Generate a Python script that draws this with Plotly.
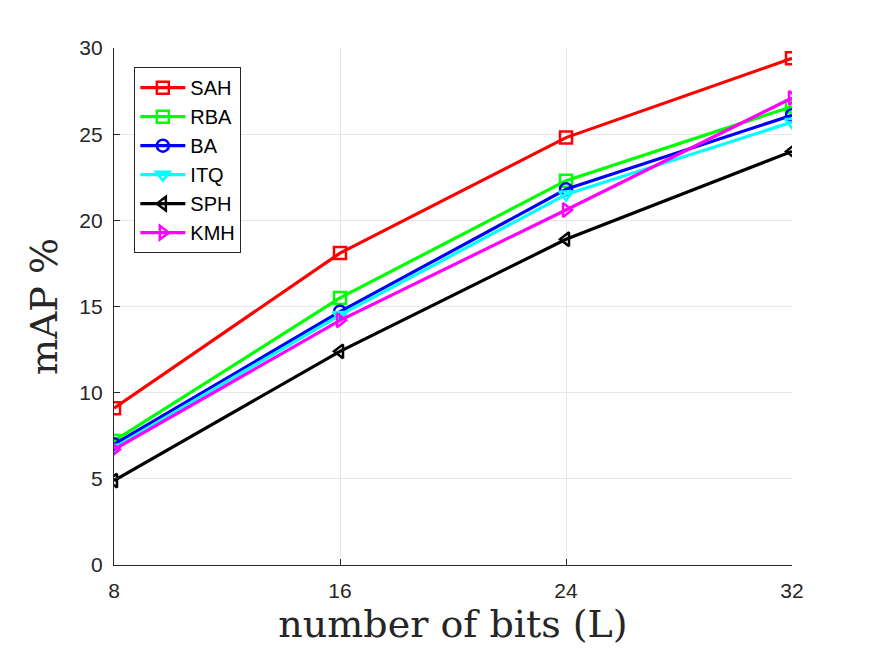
import plotly.graph_objects as go

bits = [8, 16, 24, 32]
SAH = [9.1, 18.1, 24.8, 29.4]
RBA = [7.2, 15.5, 22.3, 26.6]
BA = [7.0, 14.7, 21.8, 26.1]
ITQ = [6.8, 14.5, 21.5, 25.7]
SPH = [4.9, 12.4, 18.9, 24.0]
KMH = [6.7, 14.2, 20.6, 27.1]

series = [
    ("SAH", SAH, "#ff0000", "square-open"),
    ("RBA", RBA, "#00ff00", "square-open"),
    ("BA", BA, "#0000ff", "circle-open"),
    ("ITQ", ITQ, "#00ffff", "triangle-down-open"),
    ("SPH", SPH, "#000000", "triangle-left-open"),
    ("KMH", KMH, "#ff00ff", "triangle-right-open"),
]

fig = go.Figure()
for name, vals, col, sym in series:
    fig.add_trace(go.Scatter(
        x=bits, y=vals, name=name, mode="lines+markers",
        line=dict(color=col, width=3.2),
        marker=dict(symbol=sym, size=12, color=col, line=dict(color=col, width=2.5)),
    ))

serif = "DejaVu Serif, Liberation Serif, serif"
fig.update_layout(
    width=875, height=657,
    margin=dict(l=114, r=83, t=48, b=92),
    paper_bgcolor="white", plot_bgcolor="white",
    font=dict(family="Liberation Sans, Arial, sans-serif", size=21, color="#262626"),
    showlegend=True,
    legend=dict(
        x=0.03, y=0.963, xanchor="left", yanchor="top",
        bordercolor="#262626", borderwidth=1, bgcolor="white",
        font=dict(size=20, color="#000000"),
        tracegroupgap=0, itemwidth=45,
    ),
    xaxis=dict(
        range=[8, 32], tickvals=bits, ticktext=[str(b) for b in bits],
        showgrid=True, gridcolor="#e6e6e6", gridwidth=1,
        showline=True, linecolor="#262626", linewidth=1.2,
        ticks="inside", ticklen=6, tickcolor="#262626",
        ticklabelstandoff=7,
        zeroline=False, mirror=False,
        title=dict(text="number of bits (L)", font=dict(family=serif, size=38, color="#262626"), standoff=6),
    ),
    yaxis=dict(
        range=[0, 30], tickvals=[0, 5, 10, 15, 20, 25, 30],
        showgrid=True, gridcolor="#e6e6e6", gridwidth=1,
        showline=True, linecolor="#262626", linewidth=1.2,
        ticks="inside", ticklen=6, tickcolor="#262626",
        ticklabelstandoff=6,
        zeroline=False,
        title=dict(text="mAP\u00a0%", font=dict(family=serif, size=38, color="#262626"), standoff=10),
    ),
)

fig.write_html("out.html")
